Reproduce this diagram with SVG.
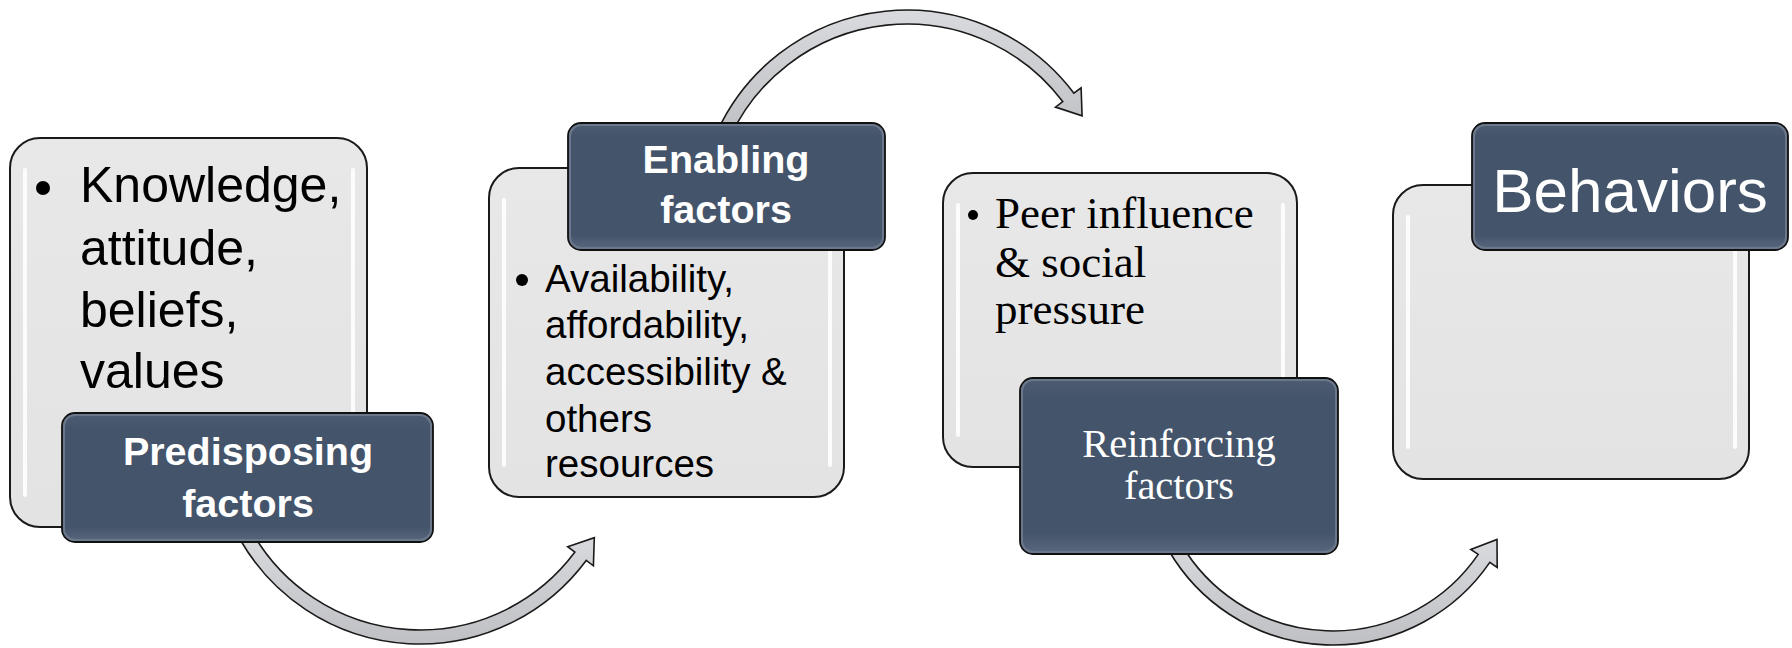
<svg xmlns="http://www.w3.org/2000/svg" width="1792" height="648" viewBox="0 0 1792 648">
<defs>
<linearGradient id="arrowFill" x1="0" y1="0" x2="0" y2="1">
<stop offset="0" stop-color="#d9dadd"/>
<stop offset="1" stop-color="#bfc0c4"/>
</linearGradient>
<linearGradient id="darkFill" x1="0" y1="0" x2="0" y2="1">
<stop offset="0" stop-color="#4d5c72"/>
<stop offset="0.12" stop-color="#44546a"/>
<stop offset="0.88" stop-color="#44546a"/>
<stop offset="1" stop-color="#5a687e"/>
</linearGradient>
<linearGradient id="stripDark" x1="0" y1="0" x2="0" y2="1">
<stop offset="0" stop-color="#e8eef5"/>
<stop offset="0.5" stop-color="#b3c0cf"/>
<stop offset="1" stop-color="#e8eef5"/>
</linearGradient>
<linearGradient id="grayFill" x1="0" y1="0" x2="0" y2="1">
<stop offset="0" stop-color="#e8e8e8"/>
<stop offset="1" stop-color="#e3e3e3"/>
</linearGradient>
</defs>
<style>
.gbox{fill:url(#grayFill);stroke:#1a1a1a;stroke-width:2}
.gstrip{stroke:#ffffff;stroke-width:4;stroke-linecap:round;opacity:0.9}
.dbox{fill:url(#darkFill);stroke:#111111;stroke-width:1.8}
.dinner{fill:none;stroke:#6b788b;stroke-width:2}
.dstrip{stroke:url(#stripDark);stroke-width:3.5;stroke-linecap:round}
.arrow{fill:url(#arrowFill);stroke:#1a1a1a;stroke-width:1.6;stroke-linejoin:miter}
.body{font-family:"Liberation Sans",Arial,sans-serif;fill:#000000}
.bodyserif{font-family:"Liberation Serif","Times New Roman",serif;fill:#000000}
.title{font-family:"Liberation Sans",Arial,sans-serif;font-weight:bold;fill:#ffffff;text-anchor:middle}
.titleserif{font-family:"Liberation Serif","Times New Roman",serif;fill:#ffffff;text-anchor:middle}
.titleplain{font-family:"Liberation Sans",Arial,sans-serif;fill:#ffffff;text-anchor:middle}
</style>
<rect x="0" y="0" width="1792" height="648" fill="#ffffff"/>
<g id="connectors">
<path class="arrow" d="M240.7,540.5 A207,207 0 0 0 586.2,560.4 L593.4,565.8 L594.3,537.7 L567.7,546.7 L574.9,552.1 A193,193 0 0 1 252.9,533.5 Z"/>
<path class="arrow" d="M717.6,130.7 A209,209 0 0 1 1073.9,93.2 L1081.1,87.8 L1082.1,115.8 L1055.5,107.1 L1062.7,101.6 A195,195 0 0 0 730.3,136.6 Z"/>
<path class="arrow" d="M1168.5,550 A190,190 0 0 0 1489.8,562.4 L1497.2,567.4 L1497,539.4 L1470.8,549.4 L1478.2,554.4 A176,176 0 0 1 1180.6,543 Z"/>
</g>
<g id="node-predisposing">
<rect class="gbox" x="10" y="138" width="357" height="389" rx="30"/>
<line class="gstrip" x1="25" y1="170" x2="25" y2="495"/>
<line class="gstrip" x1="353" y1="170" x2="353" y2="495"/>
<circle cx="43" cy="188" r="7" fill="#000"/>
<text class="body" font-size="50" x="80" y="202">Knowledge,</text>
<text class="body" font-size="50" x="80" y="265">attitude,</text>
<text class="body" font-size="50" x="80" y="327">beliefs,</text>
<text class="body" font-size="50" x="80" y="388">values</text>
<rect class="dbox" x="62" y="413" width="371" height="129" rx="13"/>
<rect class="dinner" x="64" y="415" width="367" height="125" rx="11"/>
<line class="dstrip" x1="75" y1="428" x2="75" y2="527"/>
<line class="dstrip" x1="420" y1="428" x2="420" y2="527"/>
<text class="title" font-size="39.5" x="248" y="465">Predisposing</text>
<text class="title" font-size="39.5" x="248" y="517">factors</text>
</g>
<g id="node-enabling">
<rect class="gbox" x="489" y="168" width="355" height="329" rx="30"/>
<line class="gstrip" x1="504" y1="200" x2="504" y2="465"/>
<line class="gstrip" x1="830" y1="200" x2="830" y2="465"/>
<circle cx="522" cy="280" r="6" fill="#000"/>
<text class="body" font-size="38.5" x="545" y="292">Availability,</text>
<text class="body" font-size="38.5" x="545" y="338">affordability,</text>
<text class="body" font-size="38.5" x="545" y="385">accessibility &amp;</text>
<text class="body" font-size="38.5" x="545" y="432">others</text>
<text class="body" font-size="38.5" x="545" y="477">resources</text>
<rect class="dbox" x="568" y="123" width="317" height="127" rx="13"/>
<rect class="dinner" x="570" y="125" width="313" height="123" rx="11"/>
<line class="dstrip" x1="581" y1="138" x2="581" y2="235"/>
<line class="dstrip" x1="872" y1="138" x2="872" y2="235"/>
<text class="title" font-size="39.5" x="726" y="173">Enabling</text>
<text class="title" font-size="39.5" x="726" y="223">factors</text>
</g>
<g id="node-reinforcing">
<rect class="gbox" x="943" y="173" width="354" height="294" rx="30"/>
<line class="gstrip" x1="958" y1="205" x2="958" y2="435"/>
<line class="gstrip" x1="1283" y1="205" x2="1283" y2="435"/>
<circle cx="973" cy="215" r="5" fill="#000"/>
<text class="bodyserif" font-size="45" x="995" y="228">Peer influence</text>
<text class="bodyserif" font-size="45" x="995" y="277">&amp; social</text>
<text class="bodyserif" font-size="45" x="995" y="324">pressure</text>
<rect class="dbox" x="1020" y="378" width="318" height="176" rx="13"/>
<rect class="dinner" x="1022" y="380" width="314" height="172" rx="11"/>
<line class="dstrip" x1="1033" y1="394" x2="1033" y2="537"/>
<line class="dstrip" x1="1324" y1="394" x2="1324" y2="537"/>
<text class="titleserif" font-size="40.5" x="1179" y="457">Reinforcing</text>
<text class="titleserif" font-size="40.5" x="1179" y="499">factors</text>
</g>
<g id="node-behaviors">
<rect class="gbox" x="1393" y="185" width="356" height="294" rx="30"/>
<line class="gstrip" x1="1408" y1="217" x2="1408" y2="447"/>
<line class="gstrip" x1="1735" y1="217" x2="1735" y2="447"/>
<rect class="dbox" x="1472" y="123" width="316" height="127" rx="13"/>
<rect class="dinner" x="1474" y="125" width="312" height="123" rx="11"/>
<line class="dstrip" x1="1485" y1="138" x2="1485" y2="235"/>
<line class="dstrip" x1="1775" y1="138" x2="1775" y2="235"/>
<text class="titleplain" font-size="62" x="1630" y="212">Behaviors</text>
</g>
</svg>
